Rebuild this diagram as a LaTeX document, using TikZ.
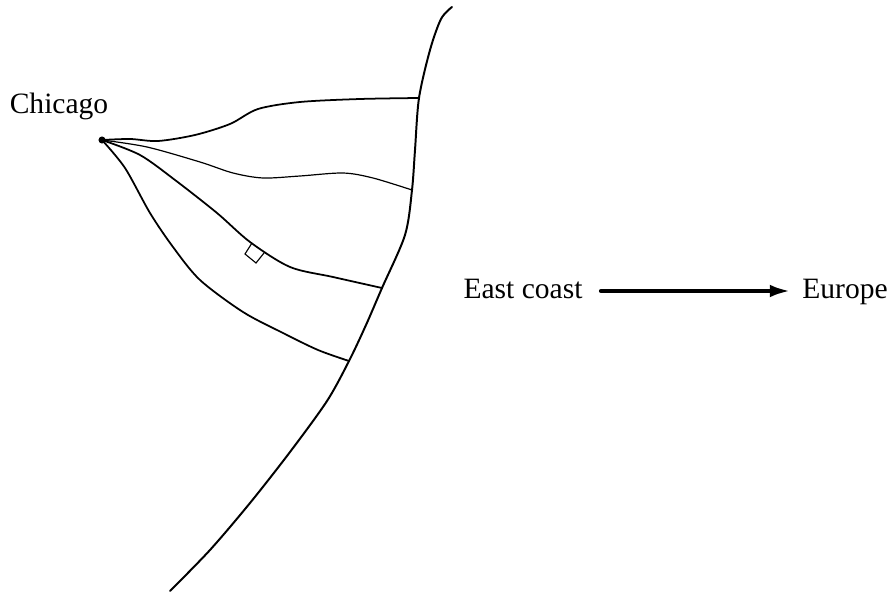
\documentclass[tikz,border=0pt]{standalone}
\usepackage{fontspec}
\setmainfont{Liberation Serif}
\usetikzlibrary{arrows.meta, calc, positioning}

\begin{document}
\begin{tikzpicture}[
    x=0.025cm, y=-0.025cm,
    place/.style={font=\fontsize{21}{24}\selectfont, inner sep=0pt, text height=14.5pt, text depth=4.5pt},
    city/.style={circle, fill=black, inner sep=0pt, minimum size=5pt},
    coast/.style={line width=1.4pt, line cap=round},
    route/.style={line width=1.25pt, line cap=round},
    arrow/.style={-{Latex[length=15pt, width=9pt]}, line width=3pt, line cap=round},
]
  \useasboundingbox (0,0) rectangle (893,596);

  \node[city] (chi) at (102,140) {};
  \node[place] (chilabel) at (59,106) {Chicago};
  \node[place] (east) at (523,291) {East coast};
  \node[place] (eur) at (845,291) {Europe};

  \coordinate (a) at (419,98);
  \coordinate (b) at (412,190);
  \coordinate (c) at (382,288);
  \coordinate (d) at (349,361);

  % shore line
  \draw[coast] plot[smooth, tension=0.5] coordinates {(452,7) (441,19) (430,50) (a) (415,150) (b) (405,235) (c) (366,325) (d) (327,401) (290,452) (250,503) (210,550) (170,591)};

  % routes
  \draw[route] plot[smooth, tension=0.5] coordinates {(chi.center) (130,139) (158,141) (195,135) (230,124) (258,109) (300,102) (360,99) (a)};
  \draw[route, line width=0.85pt] plot[smooth, tension=0.5] coordinates {(chi.center) (147,147) (200,162) (233,173) (263,178) (300,176) (343,173) (373,178) (b)};
  \draw[route] plot[smooth, tension=0.5] coordinates {(chi.center) (140,155) (175,180) (217,213) (250,242) (290,267) (333,277) (c)};
  \draw[route] plot[smooth, tension=0.5] coordinates {(chi.center) (125,168) (150,213) (173,247) (200,280) (243,312) (283,333) (318,350) (d)};

  \draw[line width=0.8pt] (252,243) -- (245,254) -- (256,263) -- (264,253);

  \draw[arrow, shorten <=13pt, shorten >=8pt] (east.east) -- (eur.west);
\end{tikzpicture}
\end{document}
